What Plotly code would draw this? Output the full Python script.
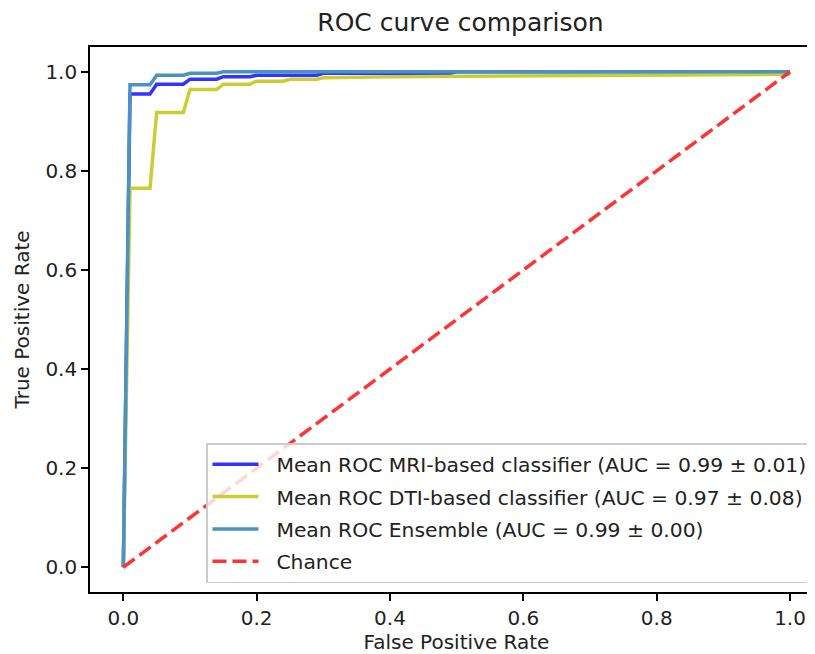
import plotly.graph_objects as go

# ---- data ----
mri_fpr = [0.0, 0.01, 0.04, 0.05, 0.09, 0.10, 0.14, 0.15, 0.19, 0.20, 0.29, 0.30, 0.49, 0.50, 1.0]
mri_tpr = [0.0, 0.955, 0.955, 0.975, 0.975, 0.985, 0.985, 0.990, 0.990, 0.993, 0.993, 0.997, 0.997, 1.0, 1.0]

dti_fpr = [0.0, 0.01, 0.04, 0.05, 0.09, 0.10, 0.14, 0.15, 0.19, 0.20, 0.24, 0.25, 0.29, 0.30, 0.40, 0.60, 0.80, 1.0]
dti_tpr = [0.0, 0.765, 0.765, 0.918, 0.918, 0.964, 0.964, 0.975, 0.975, 0.981, 0.981, 0.985, 0.985, 0.988, 0.990, 0.992, 0.994, 0.995]

ens_fpr = [0.0, 0.01, 0.04, 0.05, 0.09, 0.10, 0.14, 0.15, 1.0]
ens_tpr = [0.0, 0.974, 0.974, 0.993, 0.993, 0.997, 0.997, 1.0, 1.0]

chance_x = [0.0, 1.0]
chance_y = [0.0, 1.0]

labels = [
    "Mean ROC MRI-based classifier (AUC = 0.99 ± 0.01)",
    "Mean ROC DTI-based classifier (AUC = 0.97 ± 0.08)",
    "Mean ROC Ensemble (AUC = 0.99 ± 0.00)",
    "Chance",
]
tick_vals = [0.0, 0.2, 0.4, 0.6, 0.8, 1.0]
tick_text = ["0.0", "0.2", "0.4", "0.6", "0.8", "1.0"]

FONT = "DejaVu Sans"
FS = 20
TXT = "#222"
PAD = "\u00a0\u00a0"  # gap between legend handle and label
# page body has an 8px default margin; figure is laid out to land on the reference pixels
OFF = 8
W, H = 815, 654
L, T, R = 90 - OFF, 47 - OFF, 0
B = (H + OFF) - 592
plot_w = W - L - R
plot_h = H - T - B

fig = go.Figure()
fig.add_trace(go.Scatter(x=mri_fpr, y=mri_tpr, mode="lines", name=PAD + labels[0], legendgroup="a",
                         line=dict(color="rgb(51,51,255)", width=3.5)))
fig.add_trace(go.Scatter(x=dti_fpr, y=dti_tpr, mode="lines", name=PAD + labels[1], legendgroup="b",
                         line=dict(color="rgb(204,204,51)", width=3.5)))
fig.add_trace(go.Scatter(x=ens_fpr, y=ens_tpr, mode="lines", name=PAD + labels[2], legendgroup="c",
                         line=dict(color="rgb(75,146,196)", width=3.5)))
fig.add_trace(go.Scatter(x=chance_x, y=chance_y, mode="lines", name=PAD + labels[3], legendgroup="d",
                         line=dict(color="rgb(255,51,51)", width=3.5, dash="14px,6px")))

axis_common = dict(
    showgrid=False, zeroline=False, showline=True, linecolor="black", linewidth=1.6,
    ticks="outside", ticklen=7, tickwidth=1.6, tickcolor="black",
    tickvals=tick_vals, ticktext=tick_text, automargin=False,
    tickfont=dict(family=FONT, size=FS, color=TXT),
)
fig.update_layout(
    width=W, height=H,
    margin=dict(l=L, r=R, t=T, b=B, autoexpand=False),
    plot_bgcolor="white", paper_bgcolor="white",
    font=dict(family=FONT, color=TXT),
    title=dict(text="ROC curve comparison", x=(460.5 - 90) / plot_w, xref="paper", xanchor="center",
               y=1 - (22 - OFF) / H, yref="container", yanchor="middle",
               font=dict(family=FONT, size=25, color=TXT)),
    xaxis=dict(axis_common, range=[-0.05, -0.05 + plot_w / 666.7], mirror=True,
               title=dict(text="False Positive Rate", font=dict(family=FONT, size=FS, color=TXT), standoff=3)),
    yaxis=dict(axis_common, range=[-0.05, 1.05], mirror=False,
               title=dict(text="True Positive Rate", font=dict(family=FONT, size=FS, color=TXT), standoff=10)),
    legend=dict(x=(813 - 90) / plot_w, xanchor="right", y=(592 - 583) / plot_h, yanchor="bottom",
                bgcolor="rgba(255,255,255,0.8)", bordercolor="#cccccc", borderwidth=1.5,
                font=dict(family=FONT, size=20.3, color=TXT), tracegroupgap=3,
                itemwidth=46, traceorder="grouped"),
)
fig.write_html("out.html")
